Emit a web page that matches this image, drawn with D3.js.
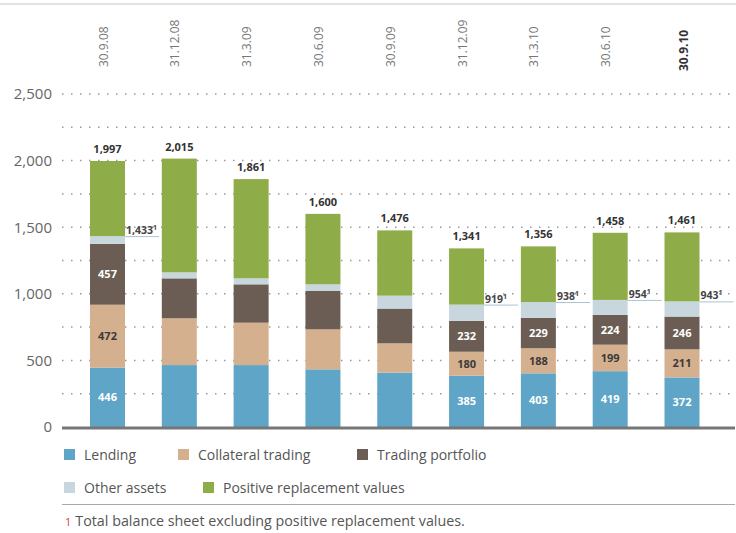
<!DOCTYPE html>
<html>
<head>
<meta charset="utf-8">
<script src="https://cdn.jsdelivr.net/npm/d3@7"></script>
<style>
  body { margin: 0; background: #fff; }
  svg { font-family: "Open Sans", "Noto Sans", sans-serif; }
</style>
</head>
<body>
<svg id="viz" width="736" height="533"></svg>
<script>
// ----------------------- DATA (CHF bn)
const dates = ['30.9.08', '31.12.08', '31.3.09', '30.6.09', '30.9.09', '31.12.09', '31.3.10', '30.6.10', '30.9.10'];
const lending = [446, 465, 465, 433, 408, 385, 403, 419, 372];
const collateral = [472, 351, 318, 300, 220, 180, 188, 199, 211];
const tradingPortfolio = [457, 300, 288, 288, 261, 232, 229, 224, 246];
const otherAssets = [58, 45, 45, 50, 97, 122, 118, 112, 114];
const replacementValues = [564, 854, 745, 529, 490, 422, 418, 504, 518];
const totals = [1997, 2015, 1861, 1600, 1476, 1341, 1356, 1458, 1461];
// total balance sheet excluding positive replacement values (footnote 1)
const exclPRV = [1433, null, null, null, null, 919, 938, 954, 943];
// which bars carry segment labels
const labelled = [true, false, false, false, false, true, true, true, true];
const yTicks = [0, 500, 1000, 1500, 2000, 2500];

const seriesNames = ['Lending', 'Collateral trading', 'Trading portfolio', 'Other assets', 'Positive replacement values'];
const seriesKeys = ['lending', 'collateral', 'trading', 'other', 'prv'];
const colors = ['#5fa5c7', '#d5b08f', '#6b5d53', '#c8d7de', '#8ead48'];

// ----------------------- SETTINGS
const plot = { left: 62, right: 735, bottom: 427, top: 94 };
const barWidth = 35;

const svg = d3.select('#viz');

const x = d3.scalePoint()
  .domain(dates)
  .range([107.5, 682]);

const y = d3.scaleLinear()
  .domain([0, 2500])
  .range([plot.bottom, plot.top]);

// top rule
svg.append('line')
  .attr('x1', 0).attr('x2', 736)
  .attr('y1', 4).attr('y2', 4)
  .attr('stroke', '#d8d8d8').attr('stroke-width', 1.5);

// date labels, rotated; the latest one is bold
const last = dates.length - 1;
svg.append('g')
  .selectAll('text')
  .data(dates)
  .enter().append('text')
  .attr('transform', (d, i) => `translate(${x(d) + (i === last ? 6 : 0)}, ${i === last ? 71 : 67}) rotate(-90)`)
  .attr('fill', (d, i) => i === last ? '#333' : '#777')
  .attr('font-weight', (d, i) => i === last ? 'bold' : 'normal')
  .attr('font-size', 12)
  .text(d => d);

// dotted gridlines every 250
const grid = d3.range(250, 2501, 250);
svg.append('g')
  .selectAll('line')
  .data(grid)
  .enter().append('line')
  .attr('x1', plot.left).attr('x2', plot.right)
  .attr('y1', d => y(d)).attr('y2', d => y(d))
  .attr('stroke', '#9a9a9a')
  .attr('stroke-width', 1.5)
  .attr('stroke-dasharray', '1.5,7.5');

// y axis labels
const yAxis = d3.axisLeft(y)
  .tickValues(yTicks)
  .tickSize(0)
  .tickPadding(0)
  .tickFormat(d3.format(','));

svg.append('g')
  .attr('transform', 'translate(52, 0)')
  .call(yAxis)
  .call(g => g.select('.domain').remove())
  .selectAll('text')
  .attr('font-size', 15)
  .attr('font-family', '"Open Sans", sans-serif')
  .attr('fill', '#666');

// ----------------------- STACK
const table = dates.map((d, i) => ({
  date: d,
  lending: lending[i],
  collateral: collateral[i],
  trading: tradingPortfolio[i],
  other: otherAssets[i],
  prv: replacementValues[i]
}));

const stacked = d3.stack().keys(seriesKeys)(table);

svg.append('g')
  .selectAll('g')
  .data(stacked)
  .enter().append('g')
  .attr('fill', (d, i) => colors[i])
  .selectAll('rect')
  .data(d => d)
  .enter().append('rect')
  .attr('x', d => x(d.data.date) - barWidth / 2)
  .attr('y', d => y(d[1]))
  .attr('height', d => y(d[0]) - y(d[1]))
  .attr('width', barWidth);

// segment labels (first three series)
const segLabelColor = ['#fff', '#3a3a3a', '#fff'];
stacked.slice(0, 3).forEach((s, k) => {
  svg.append('g')
    .selectAll('text')
    .data(s.filter((d, i) => labelled[i]))
    .enter().append('text')
    .attr('x', d => x(d.data.date))
    .attr('y', d => (y(d[0]) + y(d[1])) / 2 + 4)
    .attr('text-anchor', 'middle')
    .attr('font-size', 11)
    .attr('font-weight', 'bold')
    .attr('fill', segLabelColor[k])
    .text(d => d.data[seriesKeys[k]]);
});

// totals
svg.append('g')
  .selectAll('text')
  .data(totals)
  .enter().append('text')
  .attr('x', (d, i) => x(dates[i]))
  .attr('y', d => y(d) - 8)
  .attr('text-anchor', 'middle')
  .attr('font-size', 11)
  .attr('font-weight', 'bold')
  .attr('fill', '#333')
  .text(d3.format(','));

// footnote annotations: total excluding PRV
const notes = exclPRV.map((v, i) => ({ v, date: dates[i] })).filter(d => d.v !== null);
const noteG = svg.append('g');
noteG.selectAll('line')
  .data(notes)
  .enter().append('line')
  .attr('x1', d => x(d.date) + barWidth / 2)
  .attr('x2', d => x(d.date) + barWidth / 2 + 34)
  .attr('y1', d => y(d.v) + 0.5)
  .attr('y2', d => y(d.v) + 0.5)
  .attr('stroke', '#a9c4d3')
  .attr('stroke-width', 1);

const noteText = noteG.selectAll('text')
  .data(notes)
  .enter().append('text')
  .attr('x', d => x(d.date) + barWidth / 2 + 1)
  .attr('y', d => y(d.v) - 2)
  .attr('font-size', 10.5)
  .attr('font-weight', 'bold')
  .attr('fill', '#444');
noteText.append('tspan').text(d => d3.format(',')(d.v));
noteText.append('tspan')
  .attr('font-size', 7)
  .attr('dy', -4)
  .text('1');

// x axis baseline
svg.append('line')
  .attr('x1', plot.left).attr('x2', plot.right)
  .attr('y1', plot.bottom + 1).attr('y2', plot.bottom + 1)
  .attr('stroke', '#777')
  .attr('stroke-width', 3);

// ----------------------- LEGEND
const legendPos = [
  { x: 64, y: 455 }, { x: 178, y: 455 }, { x: 357, y: 455 },
  { x: 64, y: 488 }, { x: 203, y: 488 }
];

const legend = svg.append('g')
  .selectAll('g')
  .data(seriesNames)
  .enter().append('g')
  .attr('transform', (d, i) => `translate(${legendPos[i].x}, ${legendPos[i].y})`);

legend.append('rect')
  .attr('x', 0).attr('y', -6)
  .attr('width', 11).attr('height', 11)
  .attr('fill', (d, i) => colors[i]);

legend.append('text')
  .attr('x', 20)
  .attr('y', 5)
  .attr('font-size', 14)
  .attr('fill', '#555')
  .text(d => d);

svg.append('line')
  .attr('x1', plot.left).attr('x2', plot.right)
  .attr('y1', 504.5).attr('y2', 504.5)
  .attr('stroke', '#aaa')
  .attr('stroke-width', 1);

// footnote
const foot = svg.append('text')
  .attr('x', 65)
  .attr('y', 526)
  .attr('font-size', 14.3)
  .attr('fill', '#555');
foot.append('tspan').attr('fill', '#d9413b').attr('font-size', 11).text('1');
foot.append('tspan').attr('dx', 4).text('Total balance sheet excluding positive replacement values.');
</script>
</body>
</html>
